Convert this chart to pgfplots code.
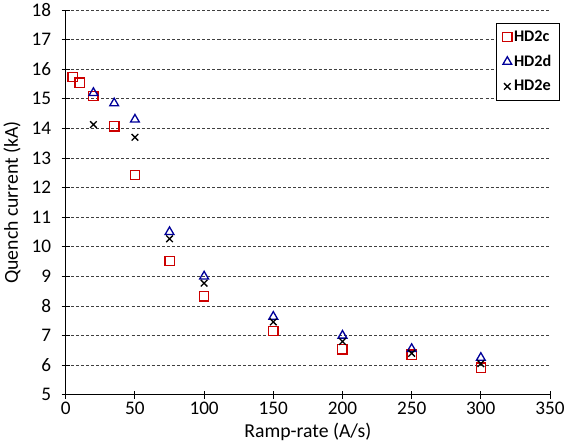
\documentclass[border=0pt]{standalone}
\usepackage{pgfplots}
\pgfplotsset{compat=1.18}
\usepackage{fontspec}
\setmainfont{Carlito}
\begin{document}
\begin{tikzpicture}
\begin{axis}[
  scale only axis,
  width=477bp, height=379bp,
  xmin=0, xmax=350, ymin=5, ymax=18,
  xtick={0,50,...,350}, ytick={5,6,...,18},
  axis x line*=bottom, axis y line*=left,
  axis line style={black, line width=0.9pt},
  tick align=center, major tick length=8bp,
  tick style={black, line width=0.9pt},
  ymajorgrids,
  major grid style={black!75, densely dashed, line width=0.9pt},
  /pgf/number format/assume math mode=true,
  ticklabel style={font=\fontsize{19}{21}\selectfont},
  label style={font=\fontsize{19.5}{22}\selectfont},
  yticklabel style={xshift=-7bp},
  xticklabel style={yshift=0bp},
  xlabel={Ramp-rate (A/s)}, ylabel={Quench current (kA)},
  xlabel style={yshift=-1bp}, ylabel style={yshift=4bp},
  legend style={at={(1.02,0.967)}, anchor=north east, draw=black, line width=0.6pt,
    font=\fontsize{16}{18}\selectfont\bfseries, row sep=8pt, inner sep=6pt},
  legend cell align=left,
  legend image code/.code={\draw[#1] plot coordinates {(0.15cm,0cm)};},
]
\addplot[only marks, mark=square, mark size=4.6bp, draw=red!80!black, line width=1.3pt] coordinates {
(5,15.74) (10,15.54) (20,15.1) (35,14.07) (50,12.42) (75,9.52) (100,8.33) (150,7.15) (200,6.54) (250,6.35) (300,5.92)};
\addlegendentry{HD2c}
\addplot[only marks, mark=triangle, mark size=5bp, draw=blue!60!black, line width=1.3pt] coordinates {
(20,15.2) (35,14.85) (50,14.3) (75,10.5) (100,9.0) (150,7.64) (200,7.0) (250,6.55) (300,6.25)};
\addlegendentry{HD2d}
\addplot[only marks, mark=x, mark size=4.6bp, draw=black, line width=1.3pt] coordinates {
(20,14.13) (50,13.7) (75,10.27) (100,8.77) (150,7.46) (200,6.8) (250,6.4) (300,6.05)};
\addlegendentry{HD2e}
\end{axis}
\end{tikzpicture}
\end{document}
